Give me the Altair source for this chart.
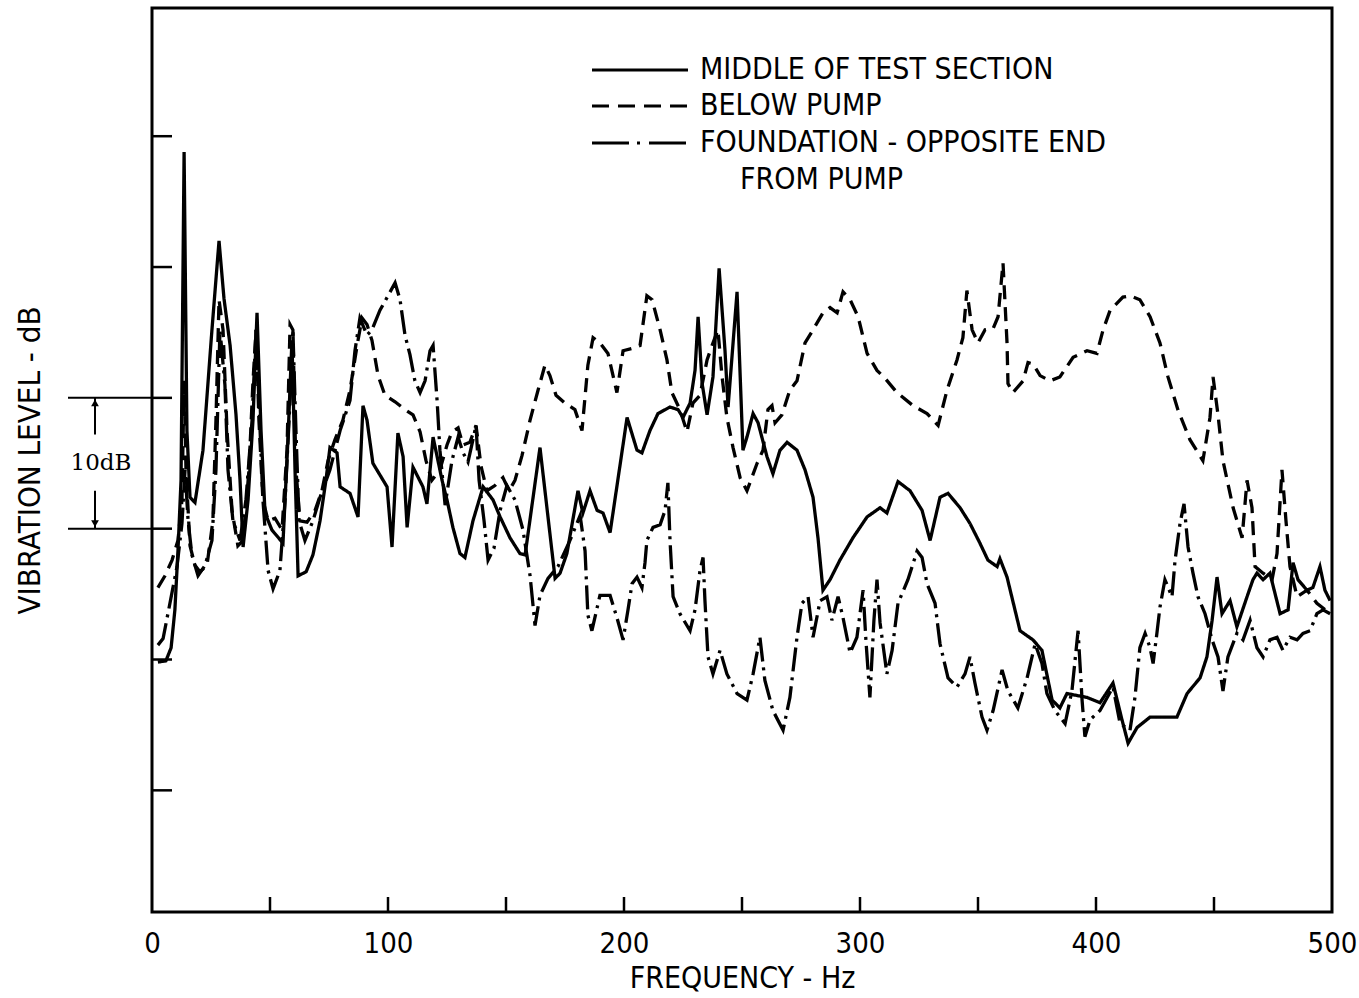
import altair as alt
import pandas as pd

FONT = "Liberation Sans Narrow, DejaVu Sans Condensed, Liberation Sans, sans-serif"

# ---------------- data (frequency in Hz, level in dB) ----------------
middle_hz = [2.5, 5.9, 8.1, 9.7, 11.0, 12.3, 13.6, 14.8, 16.1, 18.2,
             21.6, 25.4, 28.4, 30.5, 33.1, 35.6, 37.3, 38.6, 40.7, 42.8,
             44.5, 46.2, 47.9, 50.8, 55.5, 57.6, 59.3, 60.6, 61.9, 65.3,
             68.2, 71.2, 73.7, 75.4, 78.4, 79.7, 83.9, 87.3, 89.4, 91.1,
             93.6, 99.6, 101.7, 104.2, 106.4, 108.1, 110.6, 114.8, 116.5, 119.1,
             122.9, 125.0, 127.5, 130.5, 132.6, 136.0, 140.3, 144.5, 147.5, 151.7,
             155.9, 158.1, 164.4, 170.8, 172.9, 175.8, 180.5, 182.6, 185.6, 188.6,
             191.1, 194.1, 201.3, 205.5, 207.6, 211.0, 214.4, 219.5, 222.9, 225.0,
             228.0, 230.1, 231.4, 233.1, 235.2, 237.7, 240.3, 242.8, 244.1, 247.9,
             250.4, 252.1, 254.7, 256.8, 260.6, 263.1, 266.1, 269.1, 273.3, 276.7,
             280.1, 282.2, 284.3, 287.3, 291.5, 297.0, 303.0, 308.5, 311.4, 316.1,
             321.2, 326.3, 329.7, 333.9, 337.3, 342.4, 346.6, 350.8, 354.2, 358.1,
             359.3, 362.3, 367.8, 373.3, 377.1, 381.4, 384.7, 387.7, 396.2, 401.7,
             407.2, 411.0, 413.6, 417.4, 422.9, 434.3, 438.6, 444.1, 447.0, 449.2,
             451.3, 453.4, 456.8, 459.7, 464.0, 466.5, 468.2, 470.8, 473.7, 478.0,
             481.4, 483.5, 485.6, 489.4, 491.9, 494.9, 497.0, 499.2]
middle_db = [19.8, 19.9, 20.9, 23.8, 28.3, 33.7, 58.8, 37.5, 32.4, 32.0,
             36.0, 45.2, 52.0, 47.6, 44.0, 38.7, 33.7, 28.6, 32.2, 38.3,
             46.5, 37.5, 31.2, 29.9, 28.9, 36.8, 44.4, 34.5, 26.4, 26.7,
             28.0, 30.6, 33.7, 36.2, 35.8, 33.2, 32.7, 30.9, 39.4, 38.3,
             35.0, 33.2, 28.6, 37.3, 35.5, 30.1, 34.7, 33.2, 31.9, 37.0,
             33.7, 32.2, 30.1, 28.1, 27.8, 30.6, 33.2, 32.2, 30.9, 29.3,
             28.1, 28.0, 36.2, 26.2, 26.6, 28.1, 32.9, 31.2, 32.9, 31.4,
             31.2, 29.7, 38.5, 36.0, 35.8, 37.5, 38.8, 39.3, 39.1, 38.5,
             39.6, 42.1, 46.2, 41.1, 38.7, 41.6, 49.9, 43.6, 39.3, 48.1,
             36.0, 37.0, 38.8, 38.1, 35.5, 34.2, 36.0, 36.6, 36.0, 34.5,
             32.4, 29.3, 25.3, 26.1, 27.6, 29.3, 30.9, 31.6, 31.2, 33.6,
             32.9, 31.4, 29.1, 32.4, 32.7, 31.6, 30.4, 28.9, 27.6, 27.1,
             27.7, 26.3, 22.2, 21.5, 20.7, 16.9, 16.3, 17.4, 17.1, 16.7,
             18.2, 15.4, 13.6, 14.8, 15.6, 15.6, 17.4, 18.6, 20.2, 23.0,
             26.3, 23.5, 24.5, 22.5, 24.8, 26.1, 26.6, 26.1, 26.6, 23.5,
             23.8, 27.4, 26.1, 25.3, 25.5, 27.1, 25.3, 24.5]

below_hz = [2.5, 5.5, 8.5, 11.0, 12.7, 13.6, 14.4, 16.1, 18.2, 20.3,
            23.3, 25.8, 27.1, 28.4, 30.1, 31.8, 33.9, 36.4, 38.6, 41.1,
            42.8, 44.1, 45.3, 47.0, 49.2, 52.1, 55.1, 57.2, 58.5, 59.7,
            61.0, 62.7, 65.7, 69.1, 72.0, 74.6, 77.5, 80.9, 83.9, 86.9,
            89.0, 91.1, 93.2, 95.8, 98.7, 103.0, 107.2, 110.6, 113.6, 116.1,
            118.6, 122.0, 125.0, 127.1, 129.7, 131.8, 134.7, 137.3, 139.4, 141.9,
            145.3, 148.7, 151.3, 153.8, 156.8, 160.2, 163.6, 166.5, 168.6, 171.2,
            175.0, 179.2, 182.2, 184.7, 186.9, 189.8, 193.2, 197.0, 199.6, 203.8,
            206.8, 209.7, 211.9, 215.3, 218.2, 220.3, 223.7, 226.7, 229.2, 232.2,
            235.2, 237.3, 239.8, 241.5, 243.6, 246.2, 249.2, 252.1, 256.4, 258.9,
            261.0, 262.7, 264.0, 266.9, 270.3, 273.3, 276.7, 280.1, 284.3, 287.3,
            290.3, 292.8, 295.8, 299.2, 303.0, 307.2, 310.6, 315.7, 322.5, 328.4,
            333.1, 336.9, 341.1, 343.6, 345.3, 347.5, 350.0, 353.0, 356.4, 358.5,
            360.6, 362.3, 362.7, 364.8, 369.1, 371.2, 373.3, 376.3, 380.5, 384.7,
            390.3, 396.2, 400.4, 403.0, 406.0, 411.4, 414.4, 418.6, 422.9, 427.1,
            430.5, 434.7, 439.8, 445.3, 448.3, 449.6, 451.7, 453.8, 458.1, 461.9,
            464.0, 466.1, 467.4, 470.8, 474.6, 476.7, 478.8, 480.5, 482.2, 485.2,
            489.4, 493.6, 499.2]
below_db = [25.5, 26.4, 27.6, 29.1, 32.2, 41.3, 34.5, 28.7, 27.2, 26.7,
            27.2, 30.6, 38.3, 47.5, 45.2, 37.5, 31.4, 28.7, 29.1, 34.5,
            41.3, 45.2, 38.3, 32.2, 30.6, 30.8, 29.9, 36.0, 45.6, 45.2,
            34.5, 30.6, 30.5, 31.4, 32.9, 35.2, 36.8, 38.3, 40.6, 44.0,
            46.1, 45.6, 44.4, 41.7, 40.2, 39.7, 39.1, 38.7, 37.4, 35.2,
            33.7, 34.5, 36.4, 37.4, 37.7, 36.4, 36.6, 37.9, 34.8, 32.9,
            33.3, 33.9, 32.9, 33.7, 35.6, 38.3, 40.6, 42.5, 41.7, 40.2,
            39.6, 39.1, 37.5, 42.5, 44.6, 44.2, 43.4, 40.4, 43.6, 43.8,
            44.0, 47.8, 47.5, 45.2, 42.9, 40.4, 39.1, 37.4, 39.6, 40.2,
            42.9, 44.0, 45.2, 41.7, 38.5, 36.2, 33.9, 32.9, 35.0, 36.0,
            39.1, 39.4, 38.1, 38.7, 40.6, 41.3, 44.2, 45.2, 46.5, 46.9,
            46.5, 48.1, 47.5, 46.2, 43.4, 42.1, 41.5, 40.4, 39.4, 38.8,
            37.9, 40.6, 42.9, 44.6, 48.2, 45.2, 44.2, 45.2, 45.3, 46.2,
            50.3, 44.2, 41.1, 40.4, 41.3, 42.7, 42.6, 41.7, 41.3, 41.6,
            43.1, 43.6, 43.4, 45.2, 46.7, 47.7, 47.8, 47.5, 46.2, 44.2,
            41.6, 39.1, 36.8, 35.2, 38.5, 41.6, 38.7, 35.2, 31.6, 29.3,
            33.7, 31.6, 27.1, 26.6, 26.1, 28.1, 34.5, 30.6, 27.1, 24.8,
            25.3, 24.3, 23.5]

found_hz = [2.5, 4.7, 7.6, 10.6, 12.7, 14.0, 15.3, 16.9, 19.5, 22.5,
            25.4, 27.1, 28.8, 30.9, 32.2, 34.3, 37.3, 39.8, 42.4, 44.1,
            45.8, 47.0, 49.2, 51.3, 54.2, 56.4, 58.5, 59.7, 61.0, 62.3,
            64.8, 68.2, 71.2, 75.4, 79.7, 83.9, 86.0, 88.1, 91.1, 93.2,
            96.6, 100.0, 103.0, 105.1, 107.2, 109.3, 111.4, 113.6, 115.7, 117.8,
            119.1, 120.8, 122.0, 124.2, 127.1, 129.7, 131.8, 133.9, 136.0, 137.3,
            138.6, 140.7, 142.4, 144.9, 147.5, 150.4, 153.8, 157.2, 160.2, 162.3,
            164.4, 167.8, 172.0, 177.1, 181.4, 183.5, 184.7, 186.4, 189.8, 194.1,
            197.0, 199.6, 201.7, 203.4, 205.5, 207.6, 208.9, 209.7, 212.3, 215.3,
            217.4, 218.6, 219.5, 220.8, 223.7, 228.0, 230.1, 232.2, 233.5, 234.3,
            235.6, 237.7, 240.7, 243.6, 247.9, 252.1, 254.7, 257.6, 259.7, 263.1,
            267.4, 270.3, 273.3, 275.4, 278.0, 280.1, 283.1, 286.0, 288.1, 290.7,
            292.8, 295.8, 298.7, 301.3, 302.5, 304.2, 305.9, 307.2, 308.5, 311.4,
            313.6, 316.1, 320.3, 324.2, 326.3, 328.4, 331.8, 333.9, 337.3, 341.1,
            344.5, 346.6, 348.7, 351.7, 353.8, 356.4, 360.2, 362.7, 366.9, 370.8,
            374.2, 377.1, 379.2, 382.6, 386.9, 389.8, 392.4, 394.1, 395.3, 397.5,
            401.7, 407.2, 410.2, 414.4, 416.5, 418.6, 420.8, 422.9, 424.2, 425.8,
            427.1, 429.2, 432.2, 433.5, 435.6, 437.3, 439.0, 441.1, 443.2, 446.2,
            449.2, 451.7, 453.8, 455.9, 459.7, 462.3, 465.3, 468.2, 470.8, 473.7,
            476.7, 479.2, 482.2, 485.2, 487.7, 490.7, 493.6, 496.2, 499.2]
found_db = [21.1, 21.6, 24.3, 27.1, 30.4, 34.5, 30.6, 28.0, 26.4, 27.2,
            29.1, 34.5, 45.2, 41.0, 34.5, 30.6, 29.1, 32.2, 38.3, 45.2,
            37.5, 32.2, 26.8, 25.4, 26.8, 32.2, 39.8, 45.2, 37.5, 30.6,
            29.1, 30.6, 32.4, 34.5, 37.5, 39.8, 43.6, 46.1, 44.8, 45.2,
            46.7, 47.8, 48.8, 47.5, 44.8, 43.3, 41.3, 40.4, 41.3, 43.6,
            44.0, 39.8, 36.0, 31.8, 35.2, 37.0, 35.8, 35.1, 36.8, 37.9,
            33.7, 30.6, 27.6, 28.5, 31.4, 33.3, 32.2, 29.9, 26.4, 22.6,
            24.9, 26.2, 27.1, 29.1, 31.0, 28.3, 23.4, 22.2, 24.9, 24.9,
            23.2, 21.5, 23.8, 25.8, 26.3, 25.5, 27.4, 29.1, 30.1, 30.3,
            31.4, 33.5, 29.1, 24.8, 23.5, 22.2, 23.8, 26.8, 27.8, 24.5,
            20.2, 18.9, 20.7, 18.9, 17.4, 16.9, 18.9, 21.7, 18.4, 16.1,
            14.6, 17.1, 21.7, 24.3, 24.8, 21.7, 24.5, 24.8, 23.0, 24.8,
            23.2, 20.5, 21.7, 25.3, 21.5, 17.1, 23.0, 26.1, 22.8, 18.9,
            20.7, 24.3, 26.1, 28.3, 27.8, 25.8, 24.3, 21.2, 18.6, 17.9,
            18.9, 20.2, 18.2, 15.6, 14.6, 16.1, 19.2, 17.6, 16.3, 18.6,
            21.2, 19.7, 17.4, 16.1, 15.1, 17.6, 22.2, 16.9, 14.1, 15.4,
            16.1, 17.9, 15.1, 14.6, 17.1, 20.9, 22.0, 20.9, 19.7, 22.0,
            24.0, 26.1, 24.8, 27.6, 30.4, 31.9, 28.6, 26.6, 24.8, 23.5,
            21.5, 20.2, 17.6, 20.2, 22.0, 21.5, 23.0, 20.9, 20.2, 21.5,
            21.7, 20.7, 21.7, 21.5, 22.0, 22.2, 23.5, 23.8, 23.5]

series_names = ["MIDDLE OF TEST SECTION", "BELOW PUMP", "FOUNDATION - OPPOSITE END"]
legend_texts = ["MIDDLE OF TEST SECTION", "BELOW PUMP", "FOUNDATION - OPPOSITE END", "FROM PUMP"]
dash_patterns = [[1, 0], [14, 8], [24, 6, 3, 6]]
legend_dash_patterns = [[1, 0], [17, 9], [37, 8, 3, 9]]

x_label_values = [0, 100, 200, 300, 400, 500]
x_tick_values = [50, 100, 150, 200, 250, 300, 350, 400, 450]
y_tick_values = [10, 20, 30, 40, 50, 60]
bracket_values = [30, 40]

# ---------------- build table ----------------
frames = []
for name, hz, db in zip(series_names, [middle_hz, below_hz, found_hz],
                        [middle_db, below_db, found_db]):
    frames.append(pd.DataFrame({"hz": hz, "db": db, "series": name}))
df = pd.concat(frames, ignore_index=True)

W, H = 1180, 904
x_scale = alt.Scale(domain=[0, 500], nice=False, zero=False)
y_scale = alt.Scale(domain=[0.7, 69.8], nice=False, zero=False)

x_axis = alt.Axis(values=x_label_values, ticks=False, domain=False, grid=False,
                  labelFont=FONT, labelFontSize=29, labelColor="black",
                  labelPadding=17, labelFlush=False,
                  title="FREQUENCY  -  Hz", titleFont=FONT, titleFontSize=30,
                  titleFontWeight="normal", titleColor="black",
                  titleY=66, titleBaseline="middle")
y_axis = alt.Axis(labels=False, ticks=False, domain=False, grid=False,
                  title="VIBRATION LEVEL  -  dB", titleFont=FONT, titleFontSize=31,
                  titleFontWeight="normal", titleColor="black",
                  titleX=-122, titleY=H / 2, titleAngle=270,
                  titleBaseline="middle", titleAlign="center")


def X(field):
    return alt.X(field, scale=x_scale, axis=x_axis)


def Y(field):
    return alt.Y(field, scale=y_scale, axis=y_axis)


lines = alt.Chart(df).mark_line(color="black", strokeWidth=3.3).encode(
    x=X("hz:Q"),
    y=Y("db:Q"),
    strokeDash=alt.StrokeDash("series:N",
                              scale=alt.Scale(domain=series_names, range=dash_patterns),
                              legend=None),
)

y_ticks = alt.Chart(pd.DataFrame({"db": y_tick_values})).mark_rule(
    color="black", strokeWidth=2.5).encode(
    y=Y("db:Q"), x=alt.value(0), x2=alt.value(20))

x_ticks = alt.Chart(pd.DataFrame({"hz": x_tick_values})).mark_rule(
    color="black", strokeWidth=2.5).encode(
    x=X("hz:Q"), y=alt.value(H - 15), y2=alt.value(H))

# 10 dB bracket outside the left axis
bracket = alt.Chart(pd.DataFrame({"db": bracket_values})).mark_rule(
    color="black", strokeWidth=2).encode(
    y=Y("db:Q"), x=alt.value(-84), x2=alt.value(0))

shafts = alt.Chart(pd.DataFrame({"db": [40, 32.9], "b": [37.2, 30]})).mark_rule(
    color="black", strokeWidth=2).encode(
    y=Y("db:Q"), y2="b:Q", x=alt.value(-57))

head_up = alt.Chart(pd.DataFrame({"db": [40]})).mark_point(
    shape="triangle-up", filled=True, color="black", size=60, opacity=1, yOffset=5).encode(
    y=Y("db:Q"), x=alt.value(-57))
head_down = alt.Chart(pd.DataFrame({"db": [30]})).mark_point(
    shape="triangle-down", filled=True, color="black", size=60, opacity=1, yOffset=-5).encode(
    y=Y("db:Q"), x=alt.value(-57))

ten_db = alt.Chart(pd.DataFrame({"db": [35], "t": ["10dB"]})).mark_text(
    font="DejaVu Serif", fontSize=23, color="black", baseline="middle", align="center").encode(
    y=Y("db:Q"), x=alt.value(-51), text="t:N")

# ---------------- manual legend ----------------
legend_layers = []
row_y = [62, 98, 135]
for i, pattern in enumerate(legend_dash_patterns):
    legend_layers.append(
        alt.Chart(pd.DataFrame({"s": [series_names[i]]})).mark_rule(
            color="black", strokeWidth=3, strokeDash=pattern).encode(
            x=alt.value(440), x2=alt.value(536), y=alt.value(row_y[i])))
text_pos = [(548, 62), (548, 98), (548, 135), (588, 172)]
for txt, (tx, ty) in zip(legend_texts, text_pos):
    legend_layers.append(
        alt.Chart(pd.DataFrame({"t": [txt]})).mark_text(
            font=FONT, fontSize=30, color="black", align="left", baseline="middle").encode(
            x=alt.value(tx), y=alt.value(ty), text="t:N"))

chart = alt.layer(lines, y_ticks, x_ticks, bracket, shafts, head_up, head_down, ten_db,
                  *legend_layers).properties(
    width=W, height=H,
    autosize=alt.AutoSizeParams(type="none"),
    padding={"left": 152, "top": 8, "right": 27, "bottom": 86},
    background="white",
).configure_view(stroke="black", strokeWidth=3)

chart.save("out.html", embed_options={"renderer": "svg", "actions": False})
